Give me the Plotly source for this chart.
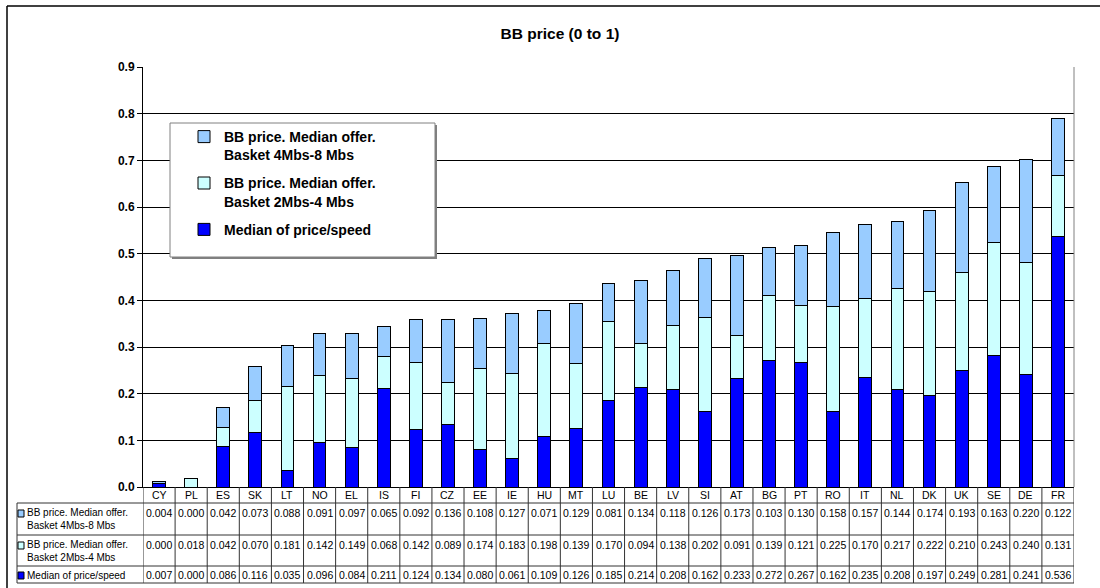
import plotly.graph_objects as go

# Country codes, sorted as in the source chart
COUNTRIES = ['CY', 'PL', 'ES', 'SK', 'LT', 'NO', 'EL', 'IS', 'FI', 'CZ', 'EE', 'IE',
             'HU', 'MT', 'LU', 'BE', 'LV', 'SI', 'AT', 'BG', 'PT', 'RO', 'IT', 'NL',
             'DK', 'UK', 'SE', 'DE', 'FR']

BASKET_4_8 = [0.004, 0.000, 0.042, 0.073, 0.088, 0.091, 0.097, 0.065, 0.092, 0.136,
              0.108, 0.127, 0.071, 0.129, 0.081, 0.134, 0.118, 0.126, 0.173, 0.103,
              0.130, 0.158, 0.157, 0.144, 0.174, 0.193, 0.163, 0.220, 0.122]
BASKET_2_4 = [0.000, 0.018, 0.042, 0.070, 0.181, 0.142, 0.149, 0.068, 0.142, 0.089,
              0.174, 0.183, 0.198, 0.139, 0.170, 0.094, 0.138, 0.202, 0.091, 0.139,
              0.121, 0.225, 0.170, 0.217, 0.222, 0.210, 0.243, 0.240, 0.131]
MEDIAN_PS = [0.007, 0.000, 0.086, 0.116, 0.035, 0.096, 0.084, 0.211, 0.124, 0.134,
             0.080, 0.061, 0.109, 0.126, 0.185, 0.214, 0.208, 0.162, 0.233, 0.272,
             0.267, 0.162, 0.235, 0.208, 0.197, 0.249, 0.281, 0.241, 0.536]

Y_TICKS = [0.0, 0.1, 0.2, 0.3, 0.4, 0.5, 0.6, 0.7, 0.8, 0.9]

# (values, legend label, table label, colour, legend rank) - bottom of the stack first
SERIES = [
    (MEDIAN_PS, 'Median of price/speed', ['Median of price/speed'], '#0000FF', 3),
    (BASKET_2_4, 'BB price. Median offer.<br>Basket 2Mbs-4 Mbs',
     ['BB price. Median offer.', 'Basket 2Mbs-4 Mbs'], '#CCFFFF', 2),
    (BASKET_4_8, 'BB price. Median offer.<br>Basket 4Mbs-8 Mbs',
     ['BB price. Median offer.', 'Basket 4Mbs-8 Mbs'], '#99CCFF', 1),
]

FONT = 'Arial, Liberation Sans, sans-serif'
W, H = 1100, 588
L, R, T, B = 143, 1074, 67, 487          # plot area in pixels
LINE = '#333333'


def px(x):
    return (x - L) / (R - L)


def py(y):
    return (B - y) / (B - T)


fig = go.Figure()
for vals, name, _, clr, rank in SERIES:
    fig.add_trace(go.Bar(
        x=COUNTRIES, y=vals, name=name, legendgroup=name, legendrank=rank,
        marker=dict(color=clr, line=dict(color='#000000', width=1)),
        width=0.4,
    ))

shapes = []
annotations = []

# ── data table under the plot ──
n = len(COUNTRIES)
for i in range(n + 1):
    shapes.append(dict(type='line', xref='x', yref='paper',
                       x0=i - 0.5, x1=i - 0.5, y0=0, y1=py(583),
                       line=dict(color=LINE, width=1)))
for yy in [503, 535, 566, 583]:
    shapes.append(dict(type='line', xref='paper', yref='paper',
                       x0=px(17), x1=1, y0=py(yy), y1=py(yy),
                       line=dict(color=LINE, width=1)))
shapes.append(dict(type='line', xref='paper', yref='paper',
                   x0=px(17), x1=px(17), y0=py(503), y1=py(583),
                   line=dict(color=LINE, width=1)))

for i, c in enumerate(COUNTRIES):
    annotations.append(dict(x=c, y=py(495), xref='x', yref='paper', text=c,
                            showarrow=False, font=dict(size=10.5, color='#000'),
                            yanchor='middle'))

# rows: top row = 4-8 Mbs, then 2-4 Mbs, then median
rows = [(SERIES[2], 503, 513), (SERIES[1], 535, 545), (SERIES[0], 566, 575)]
for (vals, _, lbl, clr, _r), top, ty in rows:
    for c, v in zip(COUNTRIES, vals):
        annotations.append(dict(x=c, y=py(ty), xref='x', yref='paper',
                                text=f'{v:.3f}', showarrow=False,
                                font=dict(size=10.5, color='#000'),
                                yanchor='middle'))
    annotations.append(dict(x=px(25), y=py(top + 2), xref='paper', yref='paper',
                            text='<br>'.join(lbl), showarrow=False, align='left',
                            xanchor='left', yanchor='top',
                            font=dict(size=10, color='#000')))
    shapes.append(dict(type='rect', xref='paper', yref='paper',
                       x0=px(18), x1=px(24), y0=py(ty - 3), y1=py(ty + 4),
                       fillcolor=clr, line=dict(color='#000', width=1)))

# ── legend box ──
shapes.append(dict(type='rect', xref='paper', yref='paper', layer='above',
                   x0=px(172), x1=px(437), y0=py(125), y1=py(259),
                   fillcolor='#808080', line=dict(width=0)))
shapes.append(dict(type='rect', xref='paper', yref='paper', layer='above',
                   x0=px(170), x1=px(435), y0=py(123), y1=py(257),
                   fillcolor='#FFFFFF', line=dict(color='#808080', width=1)))

# right border of plot area, outer chart frame
shapes.append(dict(type='line', xref='paper', yref='paper',
                   x0=1, x1=1, y0=0, y1=1, line=dict(color='#808080', width=1)))
shapes.append(dict(type='line', xref='paper', yref='paper',
                   x0=px(7), x1=px(1100), y0=py(6), y1=py(6),
                   line=dict(color='#000', width=1.5)))
shapes.append(dict(type='line', xref='paper', yref='paper',
                   x0=px(7), x1=px(7), y0=py(6), y1=py(588),
                   line=dict(color='#000', width=1.5)))

fig.update_layout(
    width=W, height=H,
    barmode='stack',
    plot_bgcolor='#FFFFFF', paper_bgcolor='#FFFFFF',
    font=dict(family=FONT, color='#000000'),
    title=dict(text='<b>BB price (0 to 1)</b>', x=560 / W, xanchor='center',
               y=1 - 34 / H, yanchor='middle',
               font=dict(size=15.5, family=FONT, color='#000')),
    margin=dict(l=L, r=W - R, t=T, b=H - B, pad=0),
    xaxis=dict(
        range=[-0.5, n - 0.5], showticklabels=False, ticks='',
        showline=True, linecolor='#000', linewidth=1, showgrid=False,
        zeroline=False, fixedrange=True,
    ),
    yaxis=dict(
        range=[0, 0.9], tickvals=Y_TICKS, tickformat='.1f',
        ticks='outside', ticklen=5, tickcolor='#000',
        tickfont=dict(size=12, family=FONT, color='#000', weight='bold'),
        showline=True, linecolor='#000', linewidth=1,
        showgrid=True, gridcolor='#000', gridwidth=1,
        zeroline=False, fixedrange=True,
    ),
    legend=dict(
        x=px(184), y=py(121), xanchor='left', yanchor='top',
        bgcolor='rgba(0,0,0,0)', borderwidth=0,
        traceorder='grouped', tracegroupgap=7, valign='top',
        font=dict(size=14, family=FONT, color='#000', weight='bold'),
    ),
    bargap=0.6,
    shapes=shapes,
    annotations=annotations,
)

# the page's default body margin would shift the chart by 8 px
fig.write_html('out.html', config={'displayModeBar': False},
               post_script="document.body.style.margin='0';")
